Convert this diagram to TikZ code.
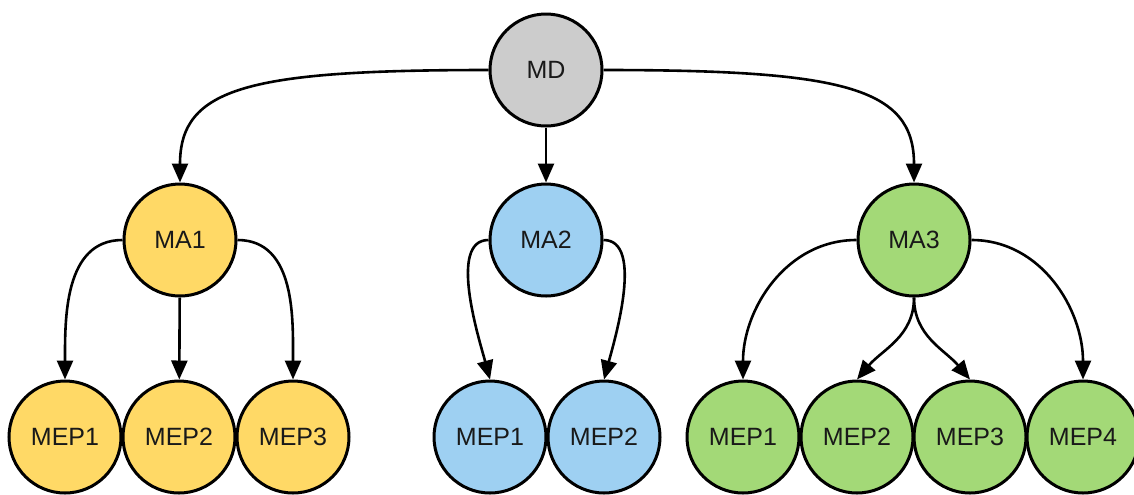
\documentclass[tikz,border=0pt]{standalone}
\usepackage{fontspec}
\setmainfont{Liberation Sans}
\usetikzlibrary{arrows.meta}

\definecolor{mdgray}{RGB}{204,204,204}
\definecolor{ayellow}{RGB}{255,217,102}
\definecolor{ablue}{RGB}{158,208,242}
\definecolor{agreen}{RGB}{163,217,119}

\begin{document}
\begin{tikzpicture}[x=0.5pt,y=-0.5pt,
    agent/.style={circle,draw,line width=1.5pt,minimum size=56pt,inner sep=0pt,
      font=\fontsize{12.5}{15}\selectfont,text=black!90},
    link/.style={line width=1.3pt,-{Triangle[length=9.5pt,width=8pt]}}]
  \useasboundingbox (0,0) rectangle (1134,494);

  % Top agent
  \node[agent,fill=mdgray] (md) at (546,70) {MD};

  % Middle row
  \node[agent,fill=ayellow] (ma1) at (180,240) {MA1};
  \node[agent,fill=ablue]   (ma2) at (546,240) {MA2};
  \node[agent,fill=agreen]  (ma3) at (914,240) {MA3};

  % Bottom row
  \node[agent,fill=ayellow] (ma1p1) at (65,437)  {MEP1};
  \node[agent,fill=ayellow] (ma1p2) at (179,437) {MEP2};
  \node[agent,fill=ayellow] (ma1p3) at (293,437) {MEP3};

  \node[agent,fill=ablue] (ma2p1) at (490,437) {MEP1};
  \node[agent,fill=ablue] (ma2p2) at (604,437) {MEP2};

  \node[agent,fill=agreen] (ma3p1) at (743,437)  {MEP1};
  \node[agent,fill=agreen] (ma3p2) at (857,437)  {MEP2};
  \node[agent,fill=agreen] (ma3p3) at (970,437)  {MEP3};
  \node[agent,fill=agreen] (ma3p4) at (1083,437) {MEP4};

  % MD to the three agents
  \draw[link] (md.west) .. controls +(-240,0) and +(0,-95) .. (ma1.north);
  \draw[link] (md) -- (ma2);
  \draw[link] (md.east) .. controls +(240,0) and +(0,-95) .. (ma3.north);

  % MA1 branch
  \draw[link] (ma1.west) to[out=180,in=90] (ma1p1.north);
  \draw[link] (ma1) -- (ma1p2);
  \draw[link] (ma1.east) to[out=0,in=90] (ma1p3.north);

  % MA2 branch
  \draw[link] (ma2.west) to[out=180,in=105,looseness=0.75] (ma2p1.north);
  \draw[link] (ma2.east) to[out=0,in=75,looseness=0.75] (ma2p2.north);

  % MA3 branch
  \draw[link] (ma3.west) to[out=180,in=90] (ma3p1.north);
  \draw[link] (ma3.south) to[out=-90,in=50] (ma3p2.north);
  \draw[link] (ma3.south) to[out=-90,in=130] (ma3p3.north);
  \draw[link] (ma3.east) to[out=0,in=90] (ma3p4.north);
\end{tikzpicture}
\end{document}
